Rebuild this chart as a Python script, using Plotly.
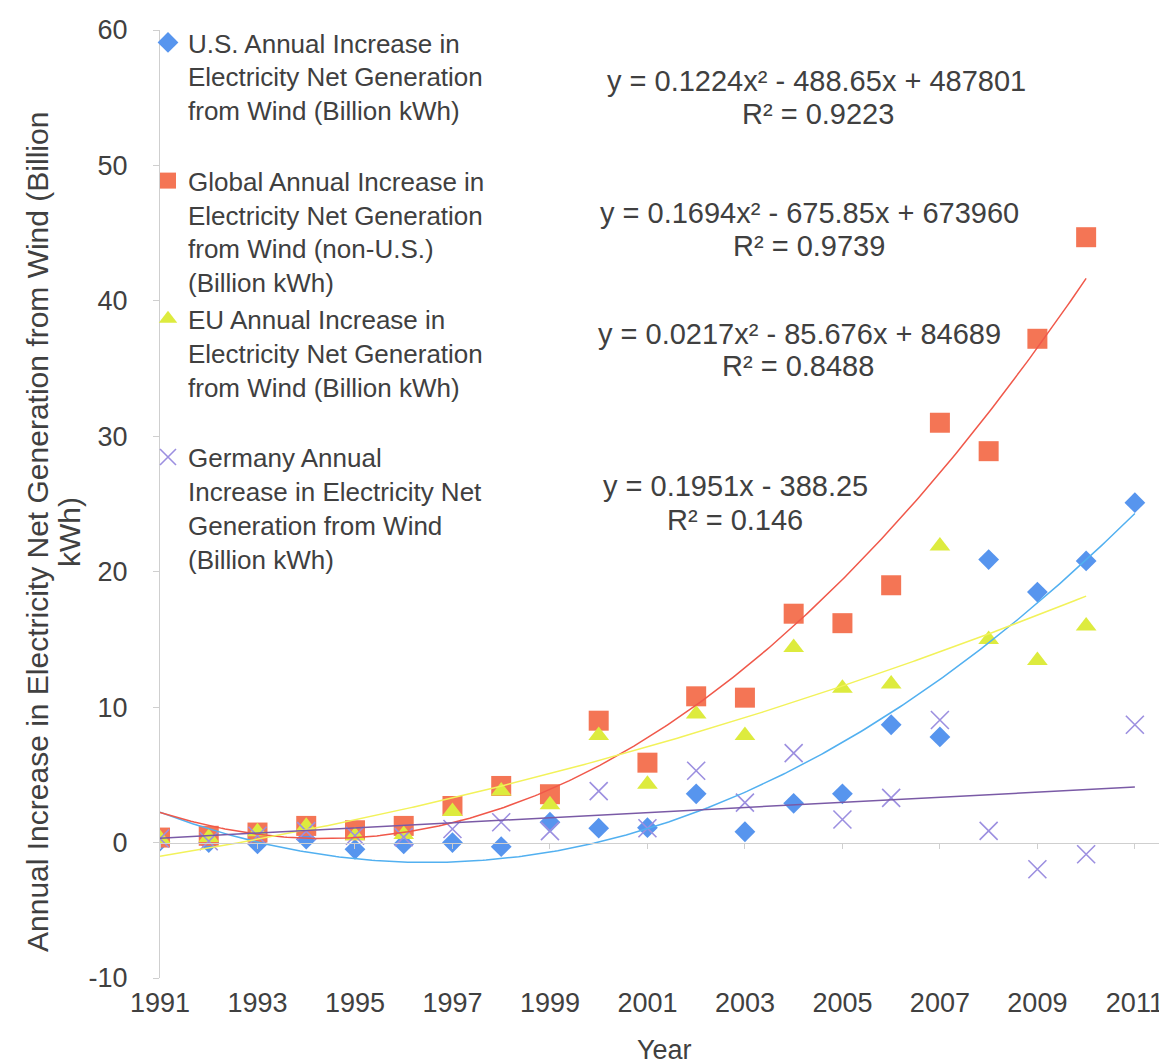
import numpy as np
import plotly.graph_objects as go

# ---------------- data ----------------
years_all = list(range(1991, 2012))          # 1991..2011
years_to2010 = list(range(1991, 2011))       # 1991..2010

us_vals = [0.1, 0.0, -0.1, 0.25, -0.5, -0.1, 0.0, -0.3, 1.5, 1.06,
           1.1, 3.6, 0.8, 2.9, 3.6, 8.7, 7.8, 20.9, 18.5, 20.8, 25.1]
global_vals = [0.37, 0.5, 0.74, 1.23, 0.91, 1.23, 2.7, 4.18, 3.57, 9.0,
               5.9, 10.8, 10.7, 16.9, 16.2, 19.0, 31.0, 28.9, 37.2, 44.7]
eu_vals = [0.3, 0.37, 0.8, 1.2, 0.5, 0.6, 2.3, 3.8, 2.8, 7.9,
           4.3, 9.5, 7.9, 14.4, 11.4, 11.7, 21.9, 15.0, 13.45, 16.0]
germany_vals = [0.3, 0.1, 0.5, 0.85, 0.5, 0.4, 1.0, 1.5, 0.85, 3.8,
                1.06, 5.3, 2.95, 6.6, 1.7, 3.3, 9.05, 0.86, -1.97, -0.86, 8.7]

series_names = [
    "U.S. Annual Increase in<br>Electricity Net Generation<br>from Wind (Billion kWh)<br> ",
    "Global Annual Increase in<br>Electricity Net Generation<br>from Wind (non-U.S.)<br>(Billion kWh)",
    "EU Annual Increase in<br>Electricity Net Generation<br>from Wind (Billion kWh)<br> ",
    "Germany Annual<br>Increase in Electricity Net<br>Generation from Wind<br>(Billion kWh)",
]
equations = [
    ("y = 0.1224x² - 488.65x + 487801", "R² = 0.9223"),
    ("y = 0.1694x² - 675.85x + 673960", "R² = 0.9739"),
    ("y = 0.0217x² - 85.676x + 84689", "R² = 0.8488"),
    ("y = 0.1951x - 388.25", "R² = 0.146"),
]
y_title_lines = ["Annual Increase in Electricity Net Generation from Wind (Billion", "kWh)"]
x_title = "Year"
x_tick_vals = list(range(1991, 2012, 2))
y_tick_vals = list(range(-10, 61, 10))
y_tick_text = [str(v) for v in y_tick_vals]

# ---------------- styling ----------------
TEXT = "#404040"
FONT = "Liberation Sans, Arial, sans-serif"
marker_colors = ["#5795EE", "#F47555", "#DDEB3E", "#9C8FE0"]
line_colors = ["#52B0F0", "#F0584A", "#F2F25A", "#7A5AA6"]

# plot area in pixels
W, H = 1167, 1063
L, R, T, B = 152, 1161, 22, 970
def px2paper(px, py):
    return (px - L) / (R - L), (B - py) / (B - T)

def trend(xs, ys, deg):
    xs = np.asarray(xs, float)
    ys = np.asarray(ys, float)
    c = np.polyfit(xs - 2000, ys, deg)
    xx = np.linspace(xs.min(), xs.max(), 300)
    return xx, np.polyval(c, xx - 2000)

fig = go.Figure()

data = [
    (years_all, us_vals, "diamond", 16, 2),
    (years_to2010, global_vals, "square", 20, 2),
    (years_to2010, eu_vals, "triangle-up", 18, 2),
    (years_all, germany_vals, "x-thin-open", 18, 1),
]

for i, (xs, ys, sym, size, deg) in enumerate(data):
    mk = dict(symbol=sym, size=size, color=marker_colors[i])
    if sym == "x-thin-open":
        mk["line"] = dict(color=marker_colors[i], width=1.6)
    else:
        mk["line"] = dict(width=0)
    fig.add_trace(go.Scatter(x=xs, y=ys, mode="markers", name=series_names[i],
                             marker=mk))

for i, (xs, ys, sym, size, deg) in enumerate(data):
    xx, yy = trend(xs, ys, deg)
    fig.add_trace(go.Scatter(x=xx, y=yy, mode="lines", showlegend=False,
                             line=dict(color=line_colors[i], width=1.5),
                             hoverinfo="skip"))

# dummy trace to materialise the crossing axis at y = 0
fig.add_trace(go.Scatter(x=[None], y=[None], xaxis="x2", showlegend=False,
                         hoverinfo="skip"))

# equation annotations (line centres in pixels)
eq_pos = [((808, 73), (810, 106)),
          ((801, 205), (801, 238)),
          ((791, 326), (790, 358)),
          ((727, 478), (727, 512))]
annotations = []
for (l1, l2), ((x1, y1), (x2, y2)) in zip(equations, eq_pos):
    for txt, (px, py) in ((l1, (x1, y1)), (l2, (x2, y2))):
        ax_, ay_ = px2paper(px, py)
        annotations.append(dict(text=txt, x=ax_, y=ay_, xref="paper", yref="paper",
                                xanchor="center", yanchor="middle", showarrow=False,
                                font=dict(size=29, color=TEXT, family=FONT)))

# axis titles
for txt, px in zip(y_title_lines, (29, 61)):
    tx, ty = px2paper(px, 524)
    annotations.append(dict(text=txt, x=tx, y=ty, xref="paper", yref="paper",
                            textangle=-90, xanchor="center", yanchor="middle",
                            showarrow=False,
                            font=dict(size=30, color=TEXT, family=FONT)))
tx, ty = px2paper(656, 1042)
annotations.append(dict(text=x_title, x=tx, y=ty, xref="paper", yref="paper",
                        xanchor="center", yanchor="middle", showarrow=False,
                        font=dict(size=27, color=TEXT, family=FONT)))

lx, _ = px2paper(140, 11)
fig.update_layout(
    width=W, height=H,
    margin=dict(l=L, r=W - R, t=T, b=H - B, autoexpand=False),
    paper_bgcolor="white", plot_bgcolor="white",
    font=dict(family=FONT, color=TEXT, size=26),
    showlegend=True,
    legend=dict(x=lx, y=1 - 11 / H, xref="paper", yref="container",
                xanchor="left", yanchor="top", maxheight=1000,
                bgcolor="rgba(0,0,0,0)", borderwidth=0, valign="top",
                font=dict(size=26, color=TEXT, family=FONT), tracegroupgap=0),
    xaxis=dict(range=[1991, 2011.7], tickvals=x_tick_vals,
               ticktext=[str(v) for v in x_tick_vals],
               showgrid=False, zeroline=False, showline=False,
               ticks="outside", ticklen=1, tickcolor="rgba(0,0,0,0)",
               tickfont=dict(size=27, color=TEXT, family=FONT)),
    xaxis2=dict(overlaying="x", matches="x", anchor="free", position=1/7,
                tickvals=x_tick_vals, showticklabels=False, showgrid=False,
                zeroline=False, showline=True, linecolor="#cfcfcf", linewidth=1,
                ticks="outside", ticklen=5, tickcolor="#cfcfcf"),
    yaxis=dict(range=[-10, 60], tickvals=y_tick_vals, ticktext=y_tick_text,
               showgrid=False, zeroline=False,
               showline=True, linecolor="#cfcfcf", linewidth=1,
               ticks="outside", ticklen=6, tickcolor="#cfcfcf",
               ticklabelstandoff=20,
               tickfont=dict(size=27, color=TEXT, family=FONT)),
    annotations=annotations,
)

fig.write_html("out.html")
